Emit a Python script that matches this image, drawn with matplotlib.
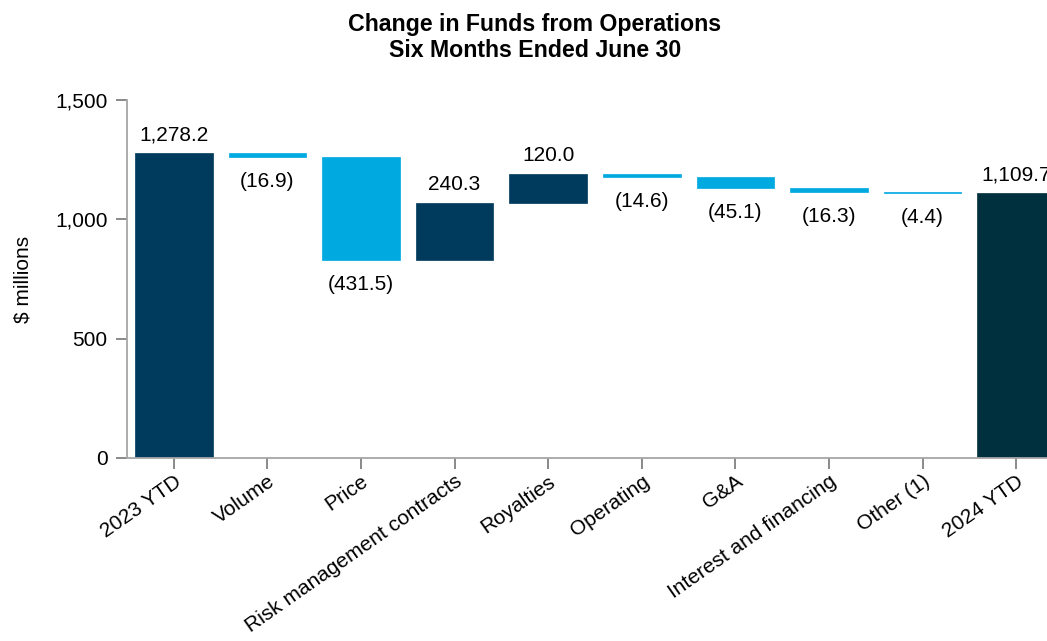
import matplotlib.pyplot as plt
import numpy as np

plt.rcParams['font.family'] = ['Liberation Sans', 'DejaVu Sans']

categories = ["2023 YTD", "Volume", "Price", "Risk management contracts",
              "Royalties", "Operating", "G&A", "Interest and financing",
              "Other (1)", "2024 YTD"]
start_value = 1278.2
changes = [-16.9, -431.5, 240.3, 120.0, -14.6, -45.1, -16.3, -4.4]
end_value = 1109.7

dark_blue = "#003A5C"
light_blue = "#00A9E0"
final_color = "#00303D"

# build the floating bars
bottoms = [0]
heights = [start_value]
colors = [dark_blue]
running = start_value
for c in changes:
    if c >= 0:
        bottoms.append(running)
    else:
        bottoms.append(running + c)
    heights.append(abs(c))
    colors.append(dark_blue if c >= 0 else light_blue)
    running += c
bottoms.append(0)
heights.append(end_value)
colors.append(final_color)

fig = plt.figure(figsize=(10.47, 6.41), dpi=100)
ax = fig.add_axes([0.1213, 0.2855, 0.894, 0.5585])

x = np.arange(len(categories))
ax.bar(x, heights, bottom=bottoms, width=0.83, color=colors,
       edgecolor=colors, linewidth=0.5)

fs = 15
# value labels: positives above, negatives below in brackets
for i, (b, h) in enumerate(zip(bottoms, heights)):
    if i == 0 or i == len(categories) - 1:
        ax.text(i, b + h + 36, f"{h:,.1f}", ha="center", va="bottom",
                fontsize=fs)
    else:
        c = changes[i - 1]
        if c >= 0:
            ax.text(i, b + h + 36, f"{c:,.1f}", ha="center", va="bottom",
                    fontsize=fs)
        else:
            ax.text(i, b - 62, f"({abs(c):,.1f})", ha="center", va="top",
                    fontsize=fs)

ax.set_xlim(-0.5, len(categories) - 0.5)
ax.set_ylim(0, 1500)
ax.set_yticks([0, 500, 1000, 1500])
ax.set_yticklabels(["0", "500", "1,000", "1,500"])
ax.set_xticks(x)
ax.set_xticklabels(categories, rotation=35, ha="right",
                   rotation_mode="anchor")

for s in ["top", "right"]:
    ax.spines[s].set_visible(False)
for s in ["left", "bottom"]:
    ax.spines[s].set_color("#a6a6a6")
    ax.spines[s].set_linewidth(1.3)
ax.tick_params(axis="both", colors="#808080", length=8, width=1.3,
               labelsize=fs, labelcolor="black", pad=6)
ax.tick_params(axis="x", pad=2)

ax.set_ylabel("$ millions", fontsize=fs, labelpad=16)

fig.text(0.511, 0.979, "Change in Funds from Operations\nSix Months Ended June 30",
         ha="center", va="top", fontsize=16.7, fontweight="bold",
         linespacing=1.15)

fig.savefig("out.png", dpi=100)
